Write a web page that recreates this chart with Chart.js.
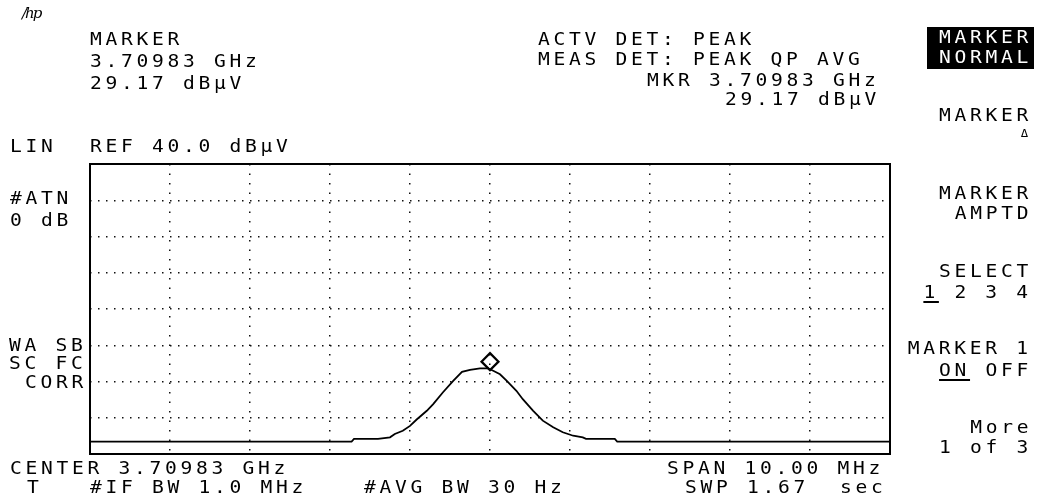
<!DOCTYPE html>
<html>
<head>
<meta charset="utf-8">
<script src="https://cdn.jsdelivr.net/npm/chart.js@4/dist/chart.umd.min.js"></script>
<style>
  body { margin: 0; background: #fff; }
  #screen { position: relative; width: 1037px; height: 504px; overflow: hidden; }
  #plot { position: absolute; left: 0; top: 0; }
  .t {
    position: absolute; white-space: pre; color: #000;
    font-family: "DejaVu Sans Mono", monospace; font-size: 17.5px;
    line-height: 17.5px; letter-spacing: 3.3px;
    transform: scaleX(1.12); transform-origin: left top;
  }
  .r { text-align: right; transform-origin: right top; }
  .inv { position: absolute; left: 927px; top: 27px; width: 107px; height: 42px; background: #000; }
  .inv .t { color: #fff; }
  .logo { position: absolute; left: 22px; top: 4px; font: italic 15px "DejaVu Serif", serif; letter-spacing: -2px; }
  u { text-underline-offset: 3px; text-decoration-thickness: 2px; }
</style>
</head>
<body>
<div id="screen">
  <canvas id="plot" width="1037" height="504"></canvas>

  <div class="logo">/hp</div>

  <div class="t" style="left:90px;top:31px">MARKER</div>
  <div class="t" style="left:90px;top:53px">3.70983 GHz</div>
  <div class="t" style="left:90px;top:75px">29.17 dBµV</div>
  <div class="t" style="left:10px;top:138px">LIN</div>
  <div class="t" style="left:90px;top:138px">REF 40.0 dBµV</div>

  <div class="t" style="left:538px;top:31px">ACTV DET: PEAK</div>
  <div class="t" style="left:538px;top:51px">MEAS DET: PEAK QP AVG</div>
  <div class="t" style="left:647px;top:72px">MKR 3.70983 GHz</div>
  <div class="t" style="left:725px;top:91px">29.17 dBµV</div>

  <div class="t" style="left:10px;top:190px">#ATN</div>
  <div class="t" style="left:10px;top:212px">0 dB</div>
  <div class="t" style="left:9px;top:337px">WA SB</div>
  <div class="t" style="left:9px;top:355px">SC FC</div>
  <div class="t" style="left:25px;top:374px">CORR</div>

  <div class="t" style="left:10px;top:460px">CENTER 3.70983 GHz</div>
  <div class="t" style="left:27px;top:479px">T</div>
  <div class="t" style="left:90px;top:479px">#IF BW 1.0 MHz</div>
  <div class="t" style="left:364px;top:479px">#AVG BW 30 Hz</div>
  <div class="t" style="left:667px;top:460px">SPAN 10.00 MHz</div>
  <div class="t" style="left:685px;top:479px">SWP 1.67  sec</div>

  <div class="inv">
    <div class="t r" style="right:2px;top:2px">MARKER</div>
    <div class="t r" style="right:2px;top:22px">NORMAL</div>
  </div>
  <div class="t r" style="right:5px;top:107px">MARKER</div>
  <div class="t r" style="right:5px;top:128px;font-size:11px;line-height:11px">Δ</div>
  <div class="t r" style="right:5px;top:185px">MARKER</div>
  <div class="t r" style="right:5px;top:205px">AMPTD</div>
  <div class="t r" style="right:5px;top:263px">SELECT</div>
  <div class="t r" style="right:5px;top:284px"><u>1</u> 2 3 4</div>
  <div class="t r" style="right:5px;top:340px">MARKER 1</div>
  <div class="t r" style="right:5px;top:362px"><u>ON</u> OFF</div>
  <div class="t r" style="right:5px;top:419px">More</div>
  <div class="t r" style="right:5px;top:439px">1 of 3</div>
</div>

<script>
// Trace: offset from center (MHz) vs level (µV, linear scale)
const freqOffsetMHz = [-5, -1.73, -1.70, -1.40, -1.25, -1.19, -1.09, -1.00, -0.92, -0.79, -0.71,
  -0.59, -0.46, -0.35, -0.25, -0.125, -0.025, 0.04, 0.125, 0.21, 0.33, 0.41, 0.54, 0.66,
  0.79, 0.91, 1.04, 1.16, 1.20, 1.56, 1.59, 5];
const levelUv = [4.3, 4.3, 5.2, 5.2, 5.75, 6.9, 8.0, 9.7, 11.8, 14.9, 17.2,
  21.2, 25.2, 28.3, 29.0, 29.5, 29.5, 28.7, 27.5, 25.2, 21.8, 18.9, 14.9, 11.5,
  9.2, 7.5, 6.3, 5.75, 5.2, 5.2, 4.3, 4.3];

// marker 1: 3.70983 GHz, 29.17 dBµV
const markerOffsetMHz = 0;
const markerLevelUv = Math.pow(10, 29.17 / 20);

const spanMHz = 10;
const refLevelUv = 100;   // 40.0 dBµV
const yDivisions = 8;

const trace = freqOffsetMHz.map((f, i) => ({x: f, y: levelUv[i]}));

// box around the graticule + the diamond marker above the marked point
const screenPlugin = {
  id: 'screen',
  afterDatasetsDraw(chart) {
    const {ctx, chartArea: a, scales} = chart;
    ctx.save();
    ctx.strokeStyle = '#000';
    ctx.lineWidth = 2;
    ctx.strokeRect(a.left, a.top, a.right - a.left, a.bottom - a.top);
    const mx = scales.x.getPixelForValue(markerOffsetMHz);
    const my = scales.y.getPixelForValue(markerLevelUv) - 9;
    const s = 8.5;
    ctx.lineWidth = 2.2;
    ctx.beginPath();
    ctx.moveTo(mx, my - s);
    ctx.lineTo(mx + s, my);
    ctx.lineTo(mx, my + s);
    ctx.lineTo(mx - s, my);
    ctx.closePath();
    ctx.stroke();
    ctx.restore();
  }
};

new Chart(document.getElementById('plot'), {
  type: 'line',
  data: {
    datasets: [{
      data: trace,
      borderColor: '#000',
      borderWidth: 1.8,
      pointRadius: 0,
      tension: 0,
      fill: false
    }]
  },
  options: {
    responsive: false,
    animation: false,
    layout: {padding: {left: 90, top: 164, right: 147, bottom: 50}},
    plugins: {legend: {display: false}, tooltip: {enabled: false}},
    scales: {
      x: {
        type: 'linear', min: -spanMHz / 2, max: spanMHz / 2,
        ticks: {display: false, stepSize: 1},
        grid: {color: '#111', lineWidth: 1.5, drawTicks: false},
        border: {display: false, dash: [1.5, 8]}
      },
      y: {
        min: 0, max: refLevelUv,
        ticks: {display: false, stepSize: refLevelUv / yDivisions},
        grid: {color: '#111', lineWidth: 1.5, drawTicks: false},
        border: {display: false, dash: [1.5, 6.5]}
      }
    }
  },
  plugins: [screenPlugin]
});
</script>
</body>
</html>
